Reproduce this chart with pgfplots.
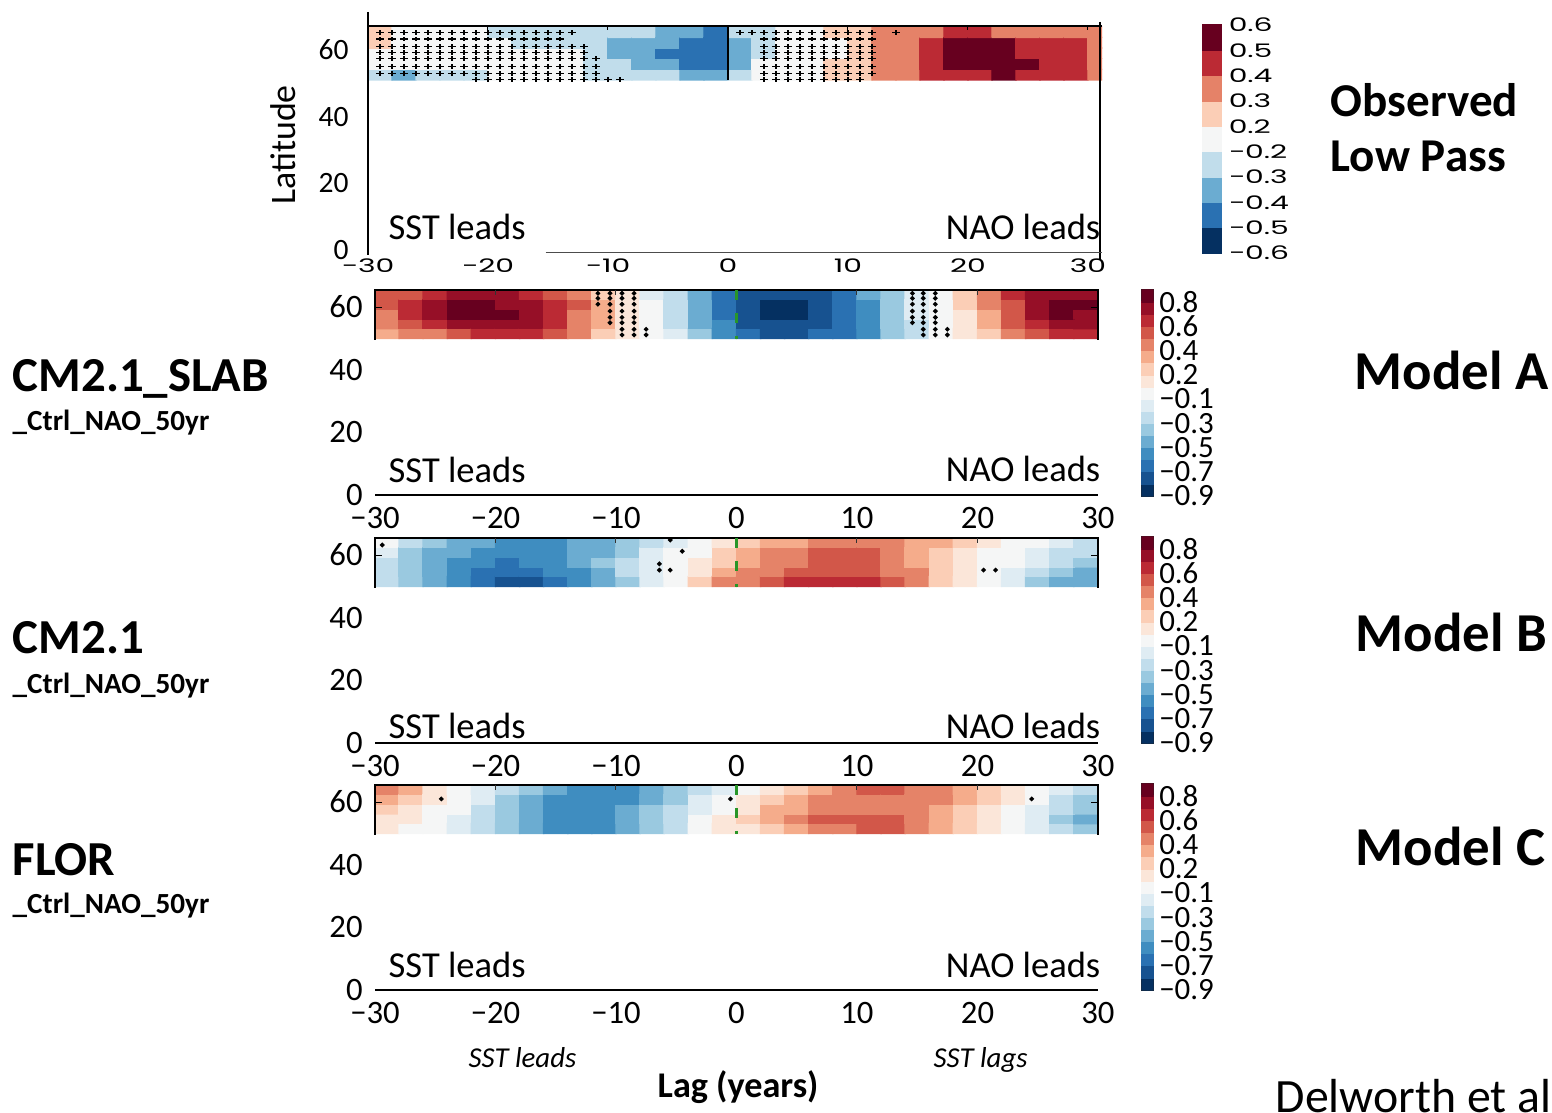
\documentclass[border=0pt]{standalone}
\usepackage{fontspec}
\setmainfont{Carlito}
\newfontfamily\obsfont[FakeStretch=1.6]{Poppins}
\usepackage{pgfplots}
\usepackage{pgfplotstable}
\pgfplotsset{compat=1.18}

\definecolor{GreenDash}{RGB}{40,150,40}

% binned RdBu maps (value -> position, piecewise constant)
\pgfplotsset{
  colormap={obsmap}{rgb255(0cm)=(5,48,97) rgb255(1cm)=(42,113,178) rgb255(2cm)=(107,172,209)
    rgb255(3cm)=(193,221,235) rgb255(4cm)=(245,246,246) rgb255(8cm)=(251,206,182)
    rgb255(9cm)=(229,130,104) rgb255(10cm)=(187,42,52) rgb255(11cm)=(103,0,31) rgb255(12cm)=(103,0,31)},
  colormap={obsbar}{rgb255(0cm)=(5,48,97) rgb255(1cm)=(42,113,178) rgb255(2cm)=(107,172,209)
    rgb255(3cm)=(193,221,235) rgb255(4cm)=(245,246,246) rgb255(5cm)=(251,206,182)
    rgb255(6cm)=(229,130,104) rgb255(7cm)=(187,42,52) rgb255(8cm)=(103,0,31) rgb255(9cm)=(103,0,31)},
  colormap={modmap}{rgb255(0cm)=(5,48,97) rgb255(1cm)=(23,82,144) rgb255(2cm)=(42,113,178)
    rgb255(3cm)=(63,141,192) rgb255(4cm)=(107,172,209) rgb255(5cm)=(154,201,224)
    rgb255(6cm)=(193,221,236) rgb255(7cm)=(223,236,243) rgb255(8cm)=(245,246,246)
    rgb255(10cm)=(251,230,217) rgb255(11cm)=(251,206,182) rgb255(12cm)=(245,172,139)
    rgb255(13cm)=(229,131,104) rgb255(14cm)=(210,87,73) rgb255(15cm)=(187,42,52)
    rgb255(16cm)=(150,15,39) rgb255(17cm)=(103,0,31) rgb255(18cm)=(103,0,31)},
  colormap={modbar}{rgb255(0cm)=(5,48,97) rgb255(1cm)=(23,82,144) rgb255(2cm)=(42,113,178)
    rgb255(3cm)=(63,141,192) rgb255(4cm)=(107,172,209) rgb255(5cm)=(154,201,224)
    rgb255(6cm)=(193,221,236) rgb255(7cm)=(223,236,243) rgb255(8cm)=(245,246,246)
    rgb255(9cm)=(251,230,217) rgb255(10cm)=(251,206,182) rgb255(11cm)=(245,172,139)
    rgb255(12cm)=(229,131,104) rgb255(13cm)=(210,87,73) rgb255(14cm)=(187,42,52)
    rgb255(15cm)=(150,15,39) rgb255(16cm)=(103,0,31) rgb255(17cm)=(103,0,31)},
  modpanel/.style={
    anchor=south west, scale only axis, width=72.3mm, height=20.55mm,
    xmin=-30, xmax=30, ymin=0, ymax=65.6,
    axis line style={draw=none}, tick style={draw=none},
    xtick={-30,-20,...,30}, xticklabels={−30,−20,−10,0,10,20,30},
    ytick={0,20,40,60}, yticklabels={0,20,40,60},
    tick label style={font=\fontsize{9.3}{10}\selectfont},
    colormap name=modmap, colormap access=piecewise constant,
    point meta min=-0.9, point meta max=0.9, clip mode=individual},
  cbar/.style={
    anchor=south west, scale only axis, xmin=0, xmax=1, xtick=\empty,
    ytick pos=right, tick align=inside,
    axis line style={line width=0.15mm, black!85},
    major tick style={black!75, line width=0.1mm}, minor tick style={black!75, line width=0.1mm},
    major tick length=0.5mm, minor tick length=0.5mm,
    colormap access=piecewise constant, clip=false},
  dotmark/.style={only marks, mark=*, mark size=0.45pt, black},
}

% lag (yr), latitude, correlation
\pgfplotstableread[row sep=\\]{
x y c\\
-29 52.6 -0.25\\ -29 55.8 0\\ -29 59.0 0\\ -29 62.2 0.25\\ -29 65.4 0.25\\
-27 52.6 -0.35\\ -27 55.8 0\\ -27 59.0 0\\ -27 62.2 0\\ -27 65.4 0\\
-25 52.6 -0.25\\ -25 55.8 0\\ -25 59.0 0\\ -25 62.2 0\\ -25 65.4 0\\
-23 52.6 -0.25\\ -23 55.8 0\\ -23 59.0 0\\ -23 62.2 0\\ -23 65.4 0\\
-21 52.6 -0.25\\ -21 55.8 0\\ -21 59.0 0\\ -21 62.2 0\\ -21 65.4 0\\
-19 52.6 0\\ -19 55.8 0\\ -19 59.0 0\\ -19 62.2 0\\ -19 65.4 -0.25\\
-17 52.6 0\\ -17 55.8 0\\ -17 59.0 0\\ -17 62.2 -0.25\\ -17 65.4 -0.25\\
-15 52.6 0\\ -15 55.8 0\\ -15 59.0 0\\ -15 62.2 -0.25\\ -15 65.4 -0.25\\
-13 52.6 0\\ -13 55.8 0\\ -13 59.0 0\\ -13 62.2 -0.25\\ -13 65.4 -0.25\\
-11 52.6 -0.25\\ -11 55.8 -0.25\\ -11 59.0 -0.25\\ -11 62.2 -0.25\\ -11 65.4 -0.25\\
-9 52.6 -0.25\\ -9 55.8 -0.25\\ -9 59.0 -0.35\\ -9 62.2 -0.35\\ -9 65.4 -0.25\\
-7 52.6 -0.25\\ -7 55.8 -0.35\\ -7 59.0 -0.35\\ -7 62.2 -0.35\\ -7 65.4 -0.25\\
-5 52.6 -0.25\\ -5 55.8 -0.35\\ -5 59.0 -0.45\\ -5 62.2 -0.35\\ -5 65.4 -0.35\\
-3 52.6 -0.35\\ -3 55.8 -0.45\\ -3 59.0 -0.45\\ -3 62.2 -0.45\\ -3 65.4 -0.35\\
-1 52.6 -0.35\\ -1 55.8 -0.45\\ -1 59.0 -0.45\\ -1 62.2 -0.45\\ -1 65.4 -0.45\\
1 52.6 -0.25\\ 1 55.8 -0.35\\ 1 59.0 -0.35\\ 1 62.2 -0.35\\ 1 65.4 -0.25\\
3 52.6 0\\ 3 55.8 0\\ 3 59.0 -0.25\\ 3 62.2 -0.25\\ 3 65.4 -0.25\\
5 52.6 0\\ 5 55.8 0\\ 5 59.0 0\\ 5 62.2 0\\ 5 65.4 0\\
7 52.6 0\\ 7 55.8 0\\ 7 59.0 0\\ 7 62.2 0\\ 7 65.4 0\\
9 52.6 0.25\\ 9 55.8 0.25\\ 9 59.0 0\\ 9 62.2 0\\ 9 65.4 0.25\\
11 52.6 0.25\\ 11 55.8 0.25\\ 11 59.0 0.25\\ 11 62.2 0.25\\ 11 65.4 0.25\\
13 52.6 0.35\\ 13 55.8 0.35\\ 13 59.0 0.35\\ 13 62.2 0.35\\ 13 65.4 0.35\\
15 52.6 0.35\\ 15 55.8 0.35\\ 15 59.0 0.35\\ 15 62.2 0.35\\ 15 65.4 0.35\\
17 52.6 0.45\\ 17 55.8 0.45\\ 17 59.0 0.45\\ 17 62.2 0.45\\ 17 65.4 0.35\\
19 52.6 0.45\\ 19 55.8 0.55\\ 19 59.0 0.55\\ 19 62.2 0.55\\ 19 65.4 0.45\\
21 52.6 0.45\\ 21 55.8 0.55\\ 21 59.0 0.55\\ 21 62.2 0.55\\ 21 65.4 0.45\\
23 52.6 0.55\\ 23 55.8 0.55\\ 23 59.0 0.55\\ 23 62.2 0.55\\ 23 65.4 0.35\\
25 52.6 0.45\\ 25 55.8 0.55\\ 25 59.0 0.45\\ 25 62.2 0.45\\ 25 65.4 0.35\\
27 52.6 0.45\\ 27 55.8 0.45\\ 27 59.0 0.45\\ 27 62.2 0.45\\ 27 65.4 0.35\\
29 52.6 0.45\\ 29 55.8 0.45\\ 29 59.0 0.45\\ 29 62.2 0.45\\ 29 65.4 0.35\\
31 52.6 0.35\\ 31 55.8 0.35\\ 31 59.0 0.35\\ 31 62.2 0.35\\ 31 65.4 0.35\\
}\obsdat

\pgfplotstableread[row sep=\\]{
x y c\\
-29 51.56 0.35\\ -29 54.68 0.45\\ -29 57.80 0.45\\ -29 60.92 0.55\\ -29 64.04 0.55\\
-27 51.56 0.45\\ -27 54.68 0.55\\ -27 57.80 0.65\\ -27 60.92 0.65\\ -27 64.04 0.55\\
-25 51.56 0.45\\ -25 54.68 0.65\\ -25 57.80 0.75\\ -25 60.92 0.75\\ -25 64.04 0.65\\
-23 51.56 0.55\\ -23 54.68 0.75\\ -23 57.80 0.85\\ -23 60.92 0.85\\ -23 64.04 0.75\\
-21 51.56 0.65\\ -21 54.68 0.75\\ -21 57.80 0.85\\ -21 60.92 0.85\\ -21 64.04 0.75\\
-19 51.56 0.65\\ -19 54.68 0.75\\ -19 57.80 0.85\\ -19 60.92 0.75\\ -19 64.04 0.75\\
-17 51.56 0.65\\ -17 54.68 0.75\\ -17 57.80 0.75\\ -17 60.92 0.75\\ -17 64.04 0.65\\
-15 51.56 0.55\\ -15 54.68 0.65\\ -15 57.80 0.65\\ -15 60.92 0.65\\ -15 64.04 0.55\\
-13 51.56 0.45\\ -13 54.68 0.45\\ -13 57.80 0.45\\ -13 60.92 0.55\\ -13 64.04 0.45\\
-11 51.56 0.25\\ -11 54.68 0.35\\ -11 57.80 0.35\\ -11 60.92 0.35\\ -11 64.04 0.25\\
-9 51.56 0.15\\ -9 54.68 0.15\\ -9 57.80 0.15\\ -9 60.92 0.15\\ -9 64.04 0.15\\
-7 51.56 0\\ -7 54.68 0\\ -7 57.80 0\\ -7 60.92 0\\ -7 64.04 -0.15\\
-5 51.56 -0.15\\ -5 54.68 -0.25\\ -5 57.80 -0.25\\ -5 60.92 -0.25\\ -5 64.04 -0.25\\
-3 51.56 -0.35\\ -3 54.68 -0.45\\ -3 57.80 -0.45\\ -3 60.92 -0.45\\ -3 64.04 -0.45\\
-1 51.56 -0.55\\ -1 54.68 -0.55\\ -1 57.80 -0.65\\ -1 60.92 -0.65\\ -1 64.04 -0.65\\
1 51.56 -0.65\\ 1 54.68 -0.75\\ 1 57.80 -0.75\\ 1 60.92 -0.75\\ 1 64.04 -0.75\\
3 51.56 -0.75\\ 3 54.68 -0.75\\ 3 57.80 -0.85\\ 3 60.92 -0.85\\ 3 64.04 -0.75\\
5 51.56 -0.75\\ 5 54.68 -0.75\\ 5 57.80 -0.85\\ 5 60.92 -0.85\\ 5 64.04 -0.75\\
7 51.56 -0.65\\ 7 54.68 -0.75\\ 7 57.80 -0.75\\ 7 60.92 -0.75\\ 7 64.04 -0.75\\
9 51.56 -0.65\\ 9 54.68 -0.65\\ 9 57.80 -0.65\\ 9 60.92 -0.65\\ 9 64.04 -0.65\\
11 51.56 -0.55\\ 11 54.68 -0.55\\ 11 57.80 -0.55\\ 11 60.92 -0.55\\ 11 64.04 -0.45\\
13 51.56 -0.35\\ 13 54.68 -0.35\\ 13 57.80 -0.35\\ 13 60.92 -0.35\\ 13 64.04 -0.35\\
15 51.56 -0.25\\ 15 54.68 -0.25\\ 15 57.80 -0.15\\ 15 60.92 -0.15\\ 15 64.04 -0.15\\
17 51.56 0\\ 17 54.68 0\\ 17 57.80 0\\ 17 60.92 0\\ 17 64.04 0\\
19 51.56 0.15\\ 19 54.68 0.15\\ 19 57.80 0.15\\ 19 60.92 0.25\\ 19 64.04 0.25\\
21 51.56 0.25\\ 21 54.68 0.35\\ 21 57.80 0.35\\ 21 60.92 0.45\\ 21 64.04 0.45\\
23 51.56 0.45\\ 23 54.68 0.55\\ 23 57.80 0.55\\ 23 60.92 0.55\\ 23 64.04 0.65\\
25 51.56 0.55\\ 25 54.68 0.65\\ 25 57.80 0.75\\ 25 60.92 0.75\\ 25 64.04 0.75\\
27 51.56 0.65\\ 27 54.68 0.75\\ 27 57.80 0.85\\ 27 60.92 0.85\\ 27 64.04 0.75\\
29 51.56 0.65\\ 29 54.68 0.75\\ 29 57.80 0.75\\ 29 60.92 0.85\\ 29 64.04 0.75\\
}\slabdat

\pgfplotstableread[row sep=\\]{
x y c\\
-29 51.56 -0.25\\ -29 54.68 -0.25\\ -29 57.80 -0.25\\ -29 60.92 -0.15\\ -29 64.04 0\\
-27 51.56 -0.35\\ -27 54.68 -0.35\\ -27 57.80 -0.35\\ -27 60.92 -0.35\\ -27 64.04 -0.25\\
-25 51.56 -0.45\\ -25 54.68 -0.45\\ -25 57.80 -0.45\\ -25 60.92 -0.45\\ -25 64.04 -0.35\\
-23 51.56 -0.55\\ -23 54.68 -0.55\\ -23 57.80 -0.55\\ -23 60.92 -0.45\\ -23 64.04 -0.45\\
-21 51.56 -0.65\\ -21 54.68 -0.65\\ -21 57.80 -0.55\\ -21 60.92 -0.55\\ -21 64.04 -0.45\\
-19 51.56 -0.75\\ -19 54.68 -0.65\\ -19 57.80 -0.65\\ -19 60.92 -0.55\\ -19 64.04 -0.55\\
-17 51.56 -0.75\\ -17 54.68 -0.65\\ -17 57.80 -0.55\\ -17 60.92 -0.55\\ -17 64.04 -0.55\\
-15 51.56 -0.65\\ -15 54.68 -0.55\\ -15 57.80 -0.55\\ -15 60.92 -0.55\\ -15 64.04 -0.55\\
-13 51.56 -0.55\\ -13 54.68 -0.55\\ -13 57.80 -0.45\\ -13 60.92 -0.45\\ -13 64.04 -0.45\\
-11 51.56 -0.45\\ -11 54.68 -0.45\\ -11 57.80 -0.35\\ -11 60.92 -0.45\\ -11 64.04 -0.45\\
-9 51.56 -0.35\\ -9 54.68 -0.25\\ -9 57.80 -0.25\\ -9 60.92 -0.35\\ -9 64.04 -0.35\\
-7 51.56 -0.15\\ -7 54.68 -0.15\\ -7 57.80 -0.15\\ -7 60.92 -0.15\\ -7 64.04 -0.25\\
-5 51.56 0\\ -5 54.68 0\\ -5 57.80 0\\ -5 60.92 0\\ -5 64.04 -0.15\\
-3 51.56 0.25\\ -3 54.68 0.15\\ -3 57.80 0.15\\ -3 60.92 0\\ -3 64.04 0\\
-1 51.56 0.45\\ -1 54.68 0.35\\ -1 57.80 0.25\\ -1 60.92 0.25\\ -1 64.04 0.15\\
1 51.56 0.45\\ 1 54.68 0.45\\ 1 57.80 0.35\\ 1 60.92 0.35\\ 1 64.04 0.25\\
3 51.56 0.55\\ 3 54.68 0.45\\ 3 57.80 0.45\\ 3 60.92 0.45\\ 3 64.04 0.35\\
5 51.56 0.65\\ 5 54.68 0.55\\ 5 57.80 0.45\\ 5 60.92 0.45\\ 5 64.04 0.35\\
7 51.56 0.65\\ 7 54.68 0.55\\ 7 57.80 0.55\\ 7 60.92 0.55\\ 7 64.04 0.45\\
9 51.56 0.65\\ 9 54.68 0.55\\ 9 57.80 0.55\\ 9 60.92 0.55\\ 9 64.04 0.45\\
11 51.56 0.65\\ 11 54.68 0.55\\ 11 57.80 0.55\\ 11 60.92 0.55\\ 11 64.04 0.45\\
13 51.56 0.55\\ 13 54.68 0.45\\ 13 57.80 0.45\\ 13 60.92 0.45\\ 13 64.04 0.45\\
15 51.56 0.45\\ 15 54.68 0.45\\ 15 57.80 0.35\\ 15 60.92 0.35\\ 15 64.04 0.35\\
17 51.56 0.25\\ 17 54.68 0.25\\ 17 57.80 0.25\\ 17 60.92 0.25\\ 17 64.04 0.35\\
19 51.56 0.15\\ 19 54.68 0.15\\ 19 57.80 0.15\\ 19 60.92 0.15\\ 19 64.04 0.25\\
21 51.56 0\\ 21 54.68 0\\ 21 57.80 0\\ 21 60.92 0\\ 21 64.04 0.15\\
23 51.56 -0.15\\ 23 54.68 -0.15\\ 23 57.80 0\\ 23 60.92 0\\ 23 64.04 0\\
25 51.56 -0.35\\ 25 54.68 -0.25\\ 25 57.80 -0.15\\ 25 60.92 -0.15\\ 25 64.04 0\\
27 51.56 -0.45\\ 27 54.68 -0.35\\ 27 57.80 -0.25\\ 27 60.92 -0.25\\ 27 64.04 -0.15\\
29 51.56 -0.45\\ 29 54.68 -0.45\\ 29 57.80 -0.35\\ 29 60.92 -0.25\\ 29 64.04 -0.25\\
}\cmdat

\pgfplotstableread[row sep=\\]{
x y c\\
-29 51.56 0.15\\ -29 54.68 0.15\\ -29 57.80 0.25\\ -29 60.92 0.35\\ -29 64.04 0.45\\
-27 51.56 0\\ -27 54.68 0.15\\ -27 57.80 0.15\\ -27 60.92 0.25\\ -27 64.04 0.35\\
-25 51.56 0\\ -25 54.68 0\\ -25 57.80 0\\ -25 60.92 0.15\\ -25 64.04 0.15\\
-23 51.56 -0.15\\ -23 54.68 -0.15\\ -23 57.80 0\\ -23 60.92 0\\ -23 64.04 0\\
-21 51.56 -0.25\\ -21 54.68 -0.25\\ -21 57.80 -0.25\\ -21 60.92 -0.15\\ -21 64.04 -0.15\\
-19 51.56 -0.35\\ -19 54.68 -0.35\\ -19 57.80 -0.35\\ -19 60.92 -0.35\\ -19 64.04 -0.25\\
-17 51.56 -0.45\\ -17 54.68 -0.45\\ -17 57.80 -0.45\\ -17 60.92 -0.45\\ -17 64.04 -0.35\\
-15 51.56 -0.55\\ -15 54.68 -0.55\\ -15 57.80 -0.55\\ -15 60.92 -0.55\\ -15 64.04 -0.45\\
-13 51.56 -0.55\\ -13 54.68 -0.55\\ -13 57.80 -0.55\\ -13 60.92 -0.55\\ -13 64.04 -0.55\\
-11 51.56 -0.55\\ -11 54.68 -0.55\\ -11 57.80 -0.55\\ -11 60.92 -0.55\\ -11 64.04 -0.55\\
-9 51.56 -0.45\\ -9 54.68 -0.45\\ -9 57.80 -0.45\\ -9 60.92 -0.55\\ -9 64.04 -0.55\\
-7 51.56 -0.35\\ -7 54.68 -0.35\\ -7 57.80 -0.35\\ -7 60.92 -0.45\\ -7 64.04 -0.45\\
-5 51.56 -0.25\\ -5 54.68 -0.25\\ -5 57.80 -0.25\\ -5 60.92 -0.35\\ -5 64.04 -0.35\\
-3 51.56 0\\ -3 54.68 0\\ -3 57.80 -0.15\\ -3 60.92 -0.15\\ -3 64.04 -0.25\\
-1 51.56 0.15\\ -1 54.68 0.15\\ -1 57.80 0\\ -1 60.92 0\\ -1 64.04 -0.15\\
1 51.56 0.15\\ 1 54.68 0.25\\ 1 57.80 0.15\\ 1 60.92 0.15\\ 1 64.04 0\\
3 51.56 0.25\\ 3 54.68 0.35\\ 3 57.80 0.35\\ 3 60.92 0.25\\ 3 64.04 0.15\\
5 51.56 0.35\\ 5 54.68 0.45\\ 5 57.80 0.35\\ 5 60.92 0.35\\ 5 64.04 0.25\\
7 51.56 0.45\\ 7 54.68 0.55\\ 7 57.80 0.45\\ 7 60.92 0.45\\ 7 64.04 0.35\\
9 51.56 0.45\\ 9 54.68 0.55\\ 9 57.80 0.45\\ 9 60.92 0.45\\ 9 64.04 0.45\\
11 51.56 0.55\\ 11 54.68 0.55\\ 11 57.80 0.45\\ 11 60.92 0.45\\ 11 64.04 0.55\\
13 51.56 0.55\\ 13 54.68 0.55\\ 13 57.80 0.45\\ 13 60.92 0.45\\ 13 64.04 0.55\\
15 51.56 0.45\\ 15 54.68 0.45\\ 15 57.80 0.45\\ 15 60.92 0.45\\ 15 64.04 0.45\\
17 51.56 0.35\\ 17 54.68 0.35\\ 17 57.80 0.35\\ 17 60.92 0.45\\ 17 64.04 0.45\\
19 51.56 0.25\\ 19 54.68 0.25\\ 19 57.80 0.25\\ 19 60.92 0.35\\ 19 64.04 0.35\\
21 51.56 0.15\\ 21 54.68 0.15\\ 21 57.80 0.15\\ 21 60.92 0.25\\ 21 64.04 0.25\\
23 51.56 0\\ 23 54.68 0\\ 23 57.80 0\\ 23 60.92 0.15\\ 23 64.04 0.15\\
25 51.56 -0.15\\ 25 54.68 -0.15\\ 25 57.80 -0.15\\ 25 60.92 0\\ 25 64.04 0\\
27 51.56 -0.25\\ 27 54.68 -0.35\\ 27 57.80 -0.25\\ 27 60.92 -0.25\\ 27 64.04 -0.15\\
29 51.56 -0.35\\ 29 54.68 -0.45\\ 29 57.80 -0.35\\ 29 60.92 -0.35\\ 29 64.04 -0.25\\
}\flordat

% colour bar cells (bin index)
\pgfplotstableread[row sep=\\]{
x y c\\
0.25 0.5 0.5\\ 0.75 0.5 0.5\\ 0.25 1.5 1.5\\ 0.75 1.5 1.5\\ 0.25 2.5 2.5\\ 0.75 2.5 2.5\\
0.25 3.5 3.5\\ 0.75 3.5 3.5\\ 0.25 4.5 4.5\\ 0.75 4.5 4.5\\ 0.25 5.5 5.5\\ 0.75 5.5 5.5\\
0.25 6.5 6.5\\ 0.75 6.5 6.5\\ 0.25 7.5 7.5\\ 0.75 7.5 7.5\\ 0.25 8.5 8.5\\ 0.75 8.5 8.5\\
}\cbobs
\pgfplotstableread[row sep=\\]{
x y c\\
0.25 0.5 0.5\\ 0.75 0.5 0.5\\ 0.25 1.5 1.5\\ 0.75 1.5 1.5\\ 0.25 2.5 2.5\\ 0.75 2.5 2.5\\
0.25 3.5 3.5\\ 0.75 3.5 3.5\\ 0.25 4.5 4.5\\ 0.75 4.5 4.5\\ 0.25 5.5 5.5\\ 0.75 5.5 5.5\\
0.25 6.5 6.5\\ 0.75 6.5 6.5\\ 0.25 7.5 7.5\\ 0.75 7.5 7.5\\ 0.25 8.5 8.5\\ 0.75 8.5 8.5\\
0.25 9.5 9.5\\ 0.75 9.5 9.5\\ 0.25 10.5 10.5\\ 0.75 10.5 10.5\\ 0.25 11.5 11.5\\ 0.75 11.5 11.5\\
0.25 12.5 12.5\\ 0.75 12.5 12.5\\ 0.25 13.5 13.5\\ 0.75 13.5 13.5\\ 0.25 14.5 14.5\\ 0.75 14.5 14.5\\
0.25 15.5 15.5\\ 0.75 15.5 15.5\\ 0.25 16.5 16.5\\ 0.75 16.5 16.5\\
}\cbmod

\newcommand\modcbar[1]{%
\begin{axis}[cbar, at={#1}, width=1.1mm, height=20.6mm, ymin=0, ymax=17,
  ytick={0,2,...,16}, minor ytick={1,3,...,17},
  yticklabels={−0.9,−0.7,−0.5,−0.3,−0.1,0.2,0.4,0.6,0.8},
  yticklabel style={font=\fontsize{8.8}{8.8}\selectfont, inner sep=0.3pt, xshift=0.45mm},
  colormap name=modbar, point meta min=0, point meta max=17]
\addplot[matrix plot*, mesh/cols=2, point meta=explicit] table[meta=c] {\cbmod};
\end{axis}}

% frame, inner ticks and zero-lag line of a model panel (no loops inside axis)
\newcommand\modframe{%
  \draw[line width=0.2mm] (-30,49.5) -- (-30,65.6) -- (30,65.6) -- (30,49.5);
  \draw[line width=0.13mm] (-30,0) -- (30,0);
  \draw[line width=0.1mm, black!80] (-20,65.6) -- (-20,64.0) (-10,65.6) -- (-10,64.0)
     (10,65.6) -- (10,64.0) (20,65.6) -- (20,64.0);
  \draw[line width=0.1mm] (-30,60) -- (-29.4,60) (30,60) -- (29.4,60);
  \draw[GreenDash, line width=0.25mm, dash pattern=on 1mm off 1.3mm] (0,65.5) -- (0,49.8);}

\begin{document}
\begin{tikzpicture}
\path (0,0) rectangle (155.2mm,-110.7mm);

% ---------- observed, low pass ----------
\begin{axis}[at={(36.8mm,-25.3mm)}, anchor=south west, scale only axis,
  width=73.4mm, height=22.7mm, xmin=-30, xmax=31.17, ymin=-0.9, ymax=67.2,
  axis line style={draw=none}, tick style={draw=none},
  xtick={-30,-20,...,30}, xticklabels={−30,−20,−10,0,10,20,30},
  xticklabel style={font=\fontsize{5.3}{6}\obsfont, yshift=0.7mm},
  ytick={0,20,40,60}, yticklabels={0,20,40,60},
  yticklabel style={font=\fontsize{8.4}{9}\selectfont, xshift=-0.7mm},
  colormap name=obsmap, colormap access=piecewise constant,
  point meta min=-0.6, point meta max=0.6, clip mode=individual]
\addplot[matrix plot*, mesh/rows=5, mesh/cols=31, mesh/ordering=y varies, point meta=explicit]
  table[meta=c] {\obsdat};
\addplot[only marks, mark=+, mark size=1.05pt, black, mark options={line width=0.3pt, yscale=0.6}] coordinates {
 (-29,65.3)(-28,65.3)(-27,65.3)(-26,65.3)(-25,65.3)(-24,65.3)(-23,65.3)(-22,65.3)(-21,65.3)
 (-20,65.3)(-19,65.3)(-18,65.3)(-17,65.3)(-16,65.3)(-15,65.3)(-14,65.3)(-13,65.3)
 (1,65.3)(2,65.3)(3,65.3)(4,65.3)(5,65.3)(6,65.3)(7,65.3)(8,65.3)(9,65.3)(10,65.3)(11,65.3)(12,65.3)(14,65.3)
 (-29,63.3)(-28,63.3)(-27,63.3)(-26,63.3)(-25,63.3)(-24,63.3)(-23,63.3)(-22,63.3)(-21,63.3)
 (-20,63.3)(-19,63.3)(-18,63.3)(-17,63.3)(-16,63.3)(-15,63.3)(-14,63.3)
 (3,63.3)(4,63.3)(5,63.3)(6,63.3)(7,63.3)(8,63.3)(9,63.3)(10,63.3)(11,63.3)(12,63.3)
 (-29,61.1)(-28,61.1)(-27,61.1)(-26,61.1)(-25,61.1)(-24,61.1)(-23,61.1)(-22,61.1)(-21,61.1)
 (-20,61.1)(-19,61.1)(-18,61.1)(-17,61.1)(-16,61.1)(-15,61.1)(-14,61.1)(-13,61.1)(-12,61.1)
 (3,61.1)(4,61.1)(5,61.1)(6,61.1)(7,61.1)(8,61.1)(9,61.1)(10,61.1)(11,61.1)(12,61.1)
 (-29,59.3)(-28,59.3)(-27,59.3)(-26,59.3)(-25,59.3)(-24,59.3)(-23,59.3)(-22,59.3)(-21,59.3)
 (-20,59.3)(-19,59.3)(-18,59.3)(-17,59.3)(-16,59.3)(-15,59.3)(-14,59.3)(-13,59.3)(-12,59.3)
 (3,59.3)(4,59.3)(5,59.3)(6,59.3)(7,59.3)(8,59.3)(9,59.3)(10,59.3)(11,59.3)(12,59.3)
 (-29,57.5)(-28,57.5)(-27,57.5)(-26,57.5)(-25,57.5)(-24,57.5)(-23,57.5)(-22,57.5)(-21,57.5)
 (-20,57.5)(-19,57.5)(-18,57.5)(-17,57.5)(-16,57.5)(-15,57.5)(-14,57.5)(-13,57.5)(-12,57.5)(-11,57.5)
 (3,57.5)(4,57.5)(5,57.5)(6,57.5)(7,57.5)(8,57.5)(9,57.5)(10,57.5)(11,57.5)(12,57.5)
 (-29,55.0)(-28,55.0)(-27,55.0)(-26,55.0)(-25,55.0)(-24,55.0)(-23,55.0)(-22,55.0)(-21,55.0)
 (-20,55.0)(-19,55.0)(-18,55.0)(-17,55.0)(-16,55.0)(-15,55.0)(-14,55.0)(-13,55.0)(-12,55.0)(-11,55.0)
 (3,55.0)(4,55.0)(5,55.0)(6,55.0)(7,55.0)(8,55.0)(9,55.0)(10,55.0)(11,55.0)(12,55.0)
 (-29,53.0)(-28,53.0)(-27,53.0)(-26,53.0)(-25,53.0)(-24,53.0)(-23,53.0)(-22,53.0)(-21,53.0)
 (-20,53.0)(-19,53.0)(-18,53.0)(-17,53.0)(-16,53.0)(-15,53.0)(-14,53.0)(-13,53.0)(-12,53.0)(-11,53.0)
 (3,53.0)(4,53.0)(5,53.0)(6,53.0)(7,53.0)(8,53.0)(9,53.0)(10,53.0)(11,53.0)(12,53.0)
 (-21,51.2)(-20,51.2)(-19,51.2)(-18,51.2)(-17,51.2)(-16,51.2)(-15,51.2)(-14,51.2)(-13,51.2)
 (-12,51.2)(-11,51.2)(-10,51.2)(-9,51.2)
 (3,51.2)(4,51.2)(5,51.2)(6,51.2)(7,51.2)(8,51.2)(9,51.2)(10,51.2)(11,51.2)
};
\draw[line width=0.2mm] (-30,71.4) -- (-30,-1.5);
\draw[line width=0.2mm] (-30,67.2) -- (31.17,67.2);
\draw[line width=0.25mm] (31.0,68.4) -- (31.0,-3);
\draw[line width=0.1mm, black!70] (-15.2,-0.9) -- (31.17,-0.9);
\draw[line width=0.25mm] (0,51) -- (0,67.2);
\draw[line width=0.1mm] (-20,67.2) -- (-20,65.9) (-10,67.2) -- (-10,65.9) (10,67.2) -- (10,65.9)
   (20,67.2) -- (20,65.9) (30,67.2) -- (30,65.9);
\end{axis}

\begin{axis}[cbar, at={(120.3mm,-25.3mm)}, width=1.8mm, height=22.8mm, ymin=0, ymax=9,
  ytick={0,...,9}, yticklabels={−0.6,−0.5,−0.4,−0.3,−0.2,0.2,0.3,0.4,0.5,0.6},
  yticklabel style={font=\fontsize{5.3}{6}\obsfont, inner sep=0.3pt, xshift=0.6mm},
  axis line style={line width=0.25mm, black!85},
  colormap name=obsbar, point meta min=0, point meta max=9]
\addplot[matrix plot*, mesh/cols=2, point meta=explicit] table[meta=c] {\cbobs};
\end{axis}

% ---------- CM2.1_SLAB ----------
\begin{axis}[modpanel, at={(37.5mm,-49.5mm)}]
\addplot[matrix plot*, mesh/rows=5, mesh/cols=30, mesh/ordering=y varies, point meta=explicit]
  table[meta=c] {\slabdat};
\addplot[dotmark] coordinates {
 (-11.5,64.4)(-11.5,62.8)(-11.5,60.9)
 (-10.5,64.4)(-10.5,62.8)(-10.5,60.9)(-10.5,58.7)(-10.5,56.7)(-10.5,55.0)
 (-9.5,64.4)(-9.5,62.8)(-9.5,60.9)(-9.5,58.7)(-9.5,56.7)(-9.5,55.0)(-9.5,52.9)(-9.5,51.1)
 (-8.5,64.4)(-8.5,62.8)(-8.5,60.9)(-8.5,58.7)(-8.5,56.7)(-8.5,55.0)(-8.5,52.9)(-8.5,51.1)
 (-7.5,52.9)(-7.5,51.1)
 (14.6,64.4)(14.6,62.8)(14.6,60.9)(14.6,58.7)(14.6,56.7)(14.6,55.0)
 (15.5,64.4)(15.5,62.8)(15.5,60.9)(15.5,58.7)(15.5,56.7)(15.5,55.0)(15.5,52.9)(15.5,51.1)
 (16.5,64.4)(16.5,62.8)(16.5,60.9)(16.5,58.7)(16.5,56.7)(16.5,55.0)(16.5,52.9)(16.5,51.1)
 (17.5,52.9)(17.5,51.1)
};
\modframe
\end{axis}
\modcbar{(114.2mm,-49.6mm)}

% ---------- CM2.1 ----------
\begin{axis}[modpanel, at={(37.5mm,-74.3mm)}]
\addplot[matrix plot*, mesh/rows=5, mesh/cols=30, mesh/ordering=y varies, point meta=explicit]
  table[meta=c] {\cmdat};
\addplot[dotmark] coordinates {
 (-29.4,63.2)(-5.5,64.8)(-4.5,61.2)(-6.4,57.2)(-6.4,55.2)(-5.5,55.2)(20.5,55.2)(21.5,55.2)
};
\modframe
\end{axis}
\modcbar{(114.2mm,-74.3mm)}

% ---------- FLOR ----------
\begin{axis}[modpanel, at={(37.5mm,-99.0mm)}]
\addplot[matrix plot*, mesh/rows=5, mesh/cols=30, mesh/ordering=y varies, point meta=explicit]
  table[meta=c] {\flordat};
\addplot[dotmark] coordinates {(-24.5,61.0)(-0.5,61.0)(24.5,61.0)};
\modframe
\end{axis}
\modcbar{(114.2mm,-99.0mm)}

% ---------- text ----------
\node[rotate=90, inner sep=0, font=\fontsize{10.2}{12}\selectfont] at (28.3mm,-14.5mm) {Latitude};
\node[anchor=base west, inner sep=0, font=\fontsize{13.4}{16}\selectfont\bfseries] at (133.0mm,-11.7mm) {Observed};
\node[anchor=base west, inner sep=0, font=\fontsize{13.4}{16}\selectfont\bfseries] at (133.0mm,-17.2mm) {Low Pass};

\foreach \yb/\ym in {24.0/24.0, 48.3/48.2, 73.9/73.9, 97.8/97.8} {
  \node[anchor=base west, inner sep=0, font=\fontsize{10.4}{12}\selectfont] at (38.8mm,-\yb mm) {SST leads};
  \node[anchor=base east, inner sep=0, font=\fontsize{10.4}{12}\selectfont] at (110.1mm,-\ym mm) {NAO leads};
}

\node[anchor=base west, inner sep=0, font=\fontsize{13.9}{16}\selectfont\bfseries] at (1.2mm,-39.2mm) {CM2.1\_SLAB};
\node[anchor=base west, inner sep=0, font=\fontsize{8.3}{10}\selectfont\bfseries] at (1.2mm,-43.1mm) {\_Ctrl\_NAO\_50yr};
\node[anchor=base west, inner sep=0, font=\fontsize{13.9}{16}\selectfont\bfseries] at (1.2mm,-65.4mm) {CM2.1};
\node[anchor=base west, inner sep=0, font=\fontsize{8.3}{10}\selectfont\bfseries] at (1.2mm,-69.4mm) {\_Ctrl\_NAO\_50yr};
\node[anchor=base west, inner sep=0, font=\fontsize{13.9}{16}\selectfont\bfseries] at (1.2mm,-87.6mm) {FLOR};
\node[anchor=base west, inner sep=0, font=\fontsize{8.3}{10}\selectfont\bfseries] at (1.2mm,-91.4mm) {\_Ctrl\_NAO\_50yr};

\node[anchor=base west, inner sep=0, font=\fontsize{15.6}{18}\selectfont\bfseries] at (135.4mm,-39.0mm) {Model A};
\node[anchor=base west, inner sep=0, font=\fontsize{15.6}{18}\selectfont\bfseries] at (135.5mm,-65.2mm) {Model B};
\node[anchor=base west, inner sep=0, font=\fontsize{15.6}{18}\selectfont\bfseries] at (135.5mm,-86.6mm) {Model C};

\node[anchor=base west, inner sep=0, font=\fontsize{8.2}{10}\selectfont\itshape] at (46.8mm,-106.8mm) {SST leads};
\node[anchor=base west, inner sep=0, font=\fontsize{8.2}{10}\selectfont\itshape] at (93.3mm,-106.8mm) {SST lags};
\node[anchor=base west, inner sep=0, font=\fontsize{10.3}{12}\selectfont\bfseries] at (65.7mm,-109.8mm) {Lag (years)};
\node[anchor=base west, inner sep=0, font=\fontsize{13.6}{16}\selectfont] at (127.5mm,-111.2mm) {Delworth et al};
\end{tikzpicture}
\end{document}
